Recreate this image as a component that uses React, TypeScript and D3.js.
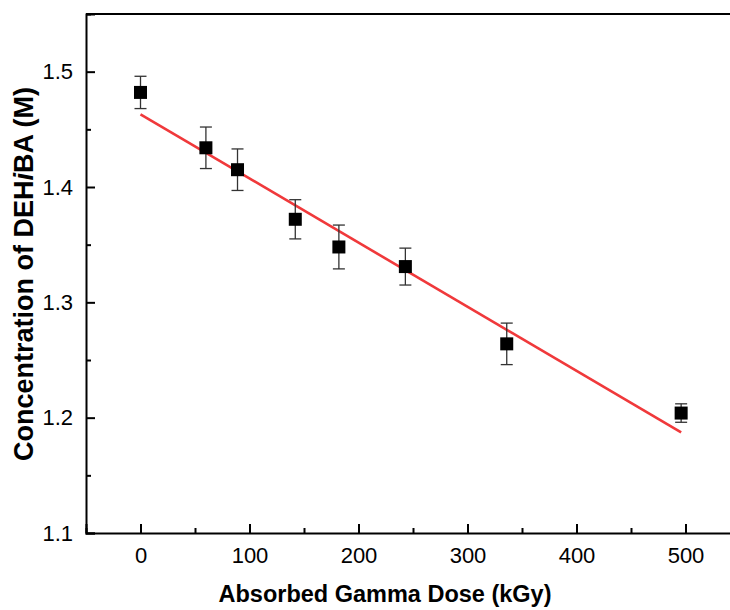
import React, { useEffect, useRef } from "react";
import * as d3 from "d3";

const W = 730;
const H = 610;
const margin = { top: 14, right: -10, bottom: 77, left: 86 };

// dose (kGy), concentration (M), error (M)
const dose = [0, 60, 89, 142, 182, 243, 336, 496];
const conc = [1.482, 1.434, 1.415, 1.372, 1.348, 1.331, 1.264, 1.204];
const err = [0.014, 0.018, 0.018, 0.017, 0.019, 0.016, 0.018, 0.008];

// linear fit
const fitIntercept = 1.463;
const fitSlope = -0.000556;

const xTicks = [0, 100, 200, 300, 400, 500];
const xMinor = [-50, 50, 150, 250, 350, 450, 550];
const yTicks = [1.1, 1.2, 1.3, 1.4, 1.5];
const yMinor = [1.15, 1.25, 1.35, 1.45, 1.55];

const font = "'Liberation Sans', Arial, sans-serif";

export default function App() {
  const ref = useRef<SVGSVGElement>(null);

  useEffect(() => {
    const svg = d3.select(ref.current);
    svg.selectAll("*").remove();

    const x = d3.scaleLinear().domain([-50, 550]).range([margin.left, W - margin.right]);
    const y = d3.scaleLinear().domain([1.1, 1.55]).range([H - margin.bottom, margin.top]);
    const pts = dose.map((d, i) => ({ x: d, y: conc[i], e: err[i] }));

    // fit line
    const ext = d3.extent(dose) as [number, number];
    const line = d3.line<number>().x(d => x(d)).y(d => y(fitIntercept + fitSlope * d));
    svg.append("path")
      .attr("d", line(ext))
      .attr("fill", "none")
      .attr("stroke", "#f0393b")
      .attr("stroke-width", 2.6);

    // error bars
    const eb = svg.append("g").attr("stroke", "#333").attr("stroke-width", 1.3);
    pts.forEach(p => {
      const cx = x(p.x);
      eb.append("line").attr("x1", cx).attr("x2", cx).attr("y1", y(p.y - p.e)).attr("y2", y(p.y + p.e));
      [p.y - p.e, p.y + p.e].forEach(v => {
        eb.append("line").attr("x1", cx - 6).attr("x2", cx + 6).attr("y1", y(v)).attr("y2", y(v));
      });
    });

    // markers
    svg.append("g").selectAll("rect").data(pts).join("rect")
      .attr("x", d => x(d.x) - 6.5)
      .attr("y", d => y(d.y) - 6.5)
      .attr("width", 13)
      .attr("height", 13)
      .attr("fill", "#000");

    // axes
    const bottom = H - margin.bottom;
    const xa = svg.append("g").attr("transform", `translate(0,${bottom})`)
      .call(d3.axisBottom(x).tickValues(xTicks).tickSize(-9).tickPadding(14).tickFormat(d3.format("d")));
    svg.append("g").attr("transform", `translate(0,${bottom})`)
      .call(d3.axisBottom(x).tickValues(xMinor).tickSize(-5).tickFormat(() => ""))
      .call(g => g.select(".domain").remove());
    const ya = svg.append("g").attr("transform", `translate(${margin.left},0)`)
      .call(d3.axisLeft(y).tickValues(yTicks).tickSize(-9).tickPadding(13).tickFormat(d3.format(".1f")));
    svg.append("g").attr("transform", `translate(${margin.left},0)`)
      .call(d3.axisLeft(y).tickValues(yMinor).tickSize(-5).tickFormat(() => ""))
      .call(g => g.select(".domain").remove());

    [xa, ya].forEach(a => {
      a.select(".domain").attr("stroke-width", 2).attr("stroke", "#000");
      a.selectAll(".tick text").attr("font-size", 22).attr("font-family", font).attr("fill", "#000");
    });
    svg.selectAll(".tick line").attr("stroke-width", 2).attr("stroke", "#000");

    // top border
    svg.append("line")
      .attr("x1", margin.left).attr("x2", W - margin.right)
      .attr("y1", margin.top).attr("y2", margin.top)
      .attr("stroke", "#000").attr("stroke-width", 2);

    // titles
    svg.append("text")
      .attr("x", 385)
      .attr("y", 602)
      .attr("text-anchor", "middle")
      .attr("font-family", font).attr("font-weight", "bold").attr("font-size", 23.5)
      .text("Absorbed Gamma Dose (kGy)");

    const yt = svg.append("text")
      .attr("transform", "translate(33,274) rotate(-90)")
      .attr("text-anchor", "middle")
      .attr("font-family", font).attr("font-weight", "bold").attr("font-size", 27);
    yt.append("tspan").text("Concentration of DEH");
    yt.append("tspan").attr("font-style", "italic").text("i");
    yt.append("tspan").text("BA (M)");
  }, []);

  return (
    <svg ref={ref} width={W} height={H}
      style={{ position: "absolute", left: 0, top: 0, background: "#fff" }} />
  );
}
